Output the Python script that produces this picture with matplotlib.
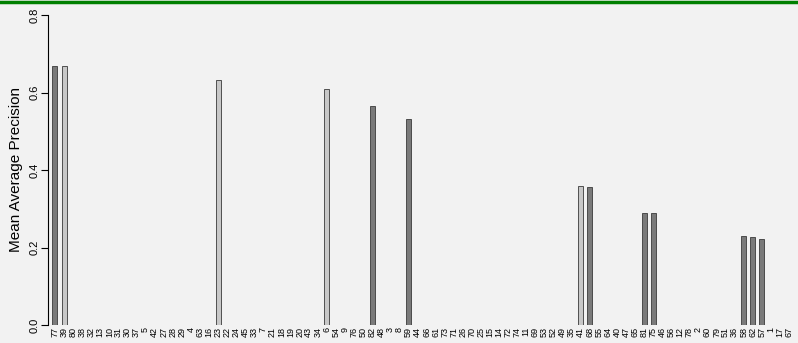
import numpy as np
import matplotlib
matplotlib.use('Agg')
import matplotlib.pyplot as plt

plt.rcParams['font.family'] = ['Liberation Sans', 'DejaVu Sans']

# query ids in ranked order
labels = [77, 39, 80, 38, 32, 13, 10, 31, 30, 37, 5, 42, 27, 28, 29, 4, 63, 16, 23, 22,
          24, 45, 33, 7, 21, 18, 19, 20, 43, 34, 6, 54, 9, 76, 50, 82, 48, 3, 8, 59,
          44, 66, 61, 73, 71, 26, 70, 25, 15, 14, 72, 74, 11, 69, 53, 52, 49, 35, 41, 68,
          55, 64, 40, 47, 65, 81, 75, 46, 56, 12, 78, 2, 60, 79, 51, 36, 58, 62, 57, 1,
          17, 67]

# non-zero mean average precision values; everything else is 0
nonzero = {77: 0.668, 39: 0.668, 23: 0.632, 6: 0.609, 82: 0.565, 59: 0.532,
           41: 0.359, 68: 0.356, 81: 0.289, 75: 0.289, 58: 0.230, 62: 0.228, 57: 0.222}
light = [39, 23, 6, 41]

values = [nonzero.get(q, 0.0) for q in labels]
colors = ['#c8c8c8' if q in light else '#7a7a7a' for q in labels]

bg = '#f2f2f2'
fig = plt.figure(figsize=(7.98, 3.43), dpi=100, facecolor=bg)
ax = fig.add_axes([48 / 798, 18 / 343, 750 / 798, 310 / 343], facecolor=bg)

x = np.arange(len(labels))
ax.bar(x, values, width=0.55, color=colors, edgecolor='#3a3a3a', linewidth=0.6)

ax.set_xlim(-0.77, 81.99)
ax.set_ylim(0, 0.8)
ax.set_xticks(x)
ax.set_xticklabels([str(q) for q in labels], rotation=90, fontsize=6.5, va='top')
ax.tick_params(axis='x', length=0, pad=1.5)
ax.set_yticks([0.0, 0.2, 0.4, 0.6, 0.8])
ax.set_yticklabels(['0.0', '0.2', '0.4', '0.6', '0.8'], rotation=90, va='center', fontsize=8)
ax.tick_params(axis='y', length=5, width=0.8, direction='out', pad=1)

for s in ['top', 'right', 'bottom']:
    ax.spines[s].set_visible(False)
ax.spines['left'].set_linewidth(0.8)
ax.set_ylabel('Mean Average Precision', fontsize=11)
ax.yaxis.set_label_coords(-25 / 750, 0.5)

# green rule across the top
fig.add_artist(plt.Line2D([0, 1], [1 - 1.5 / 343, 1 - 1.5 / 343], color='#008000', linewidth=2.5,
                          transform=fig.transFigure))

fig.savefig('out.png', dpi=100, facecolor=bg)
